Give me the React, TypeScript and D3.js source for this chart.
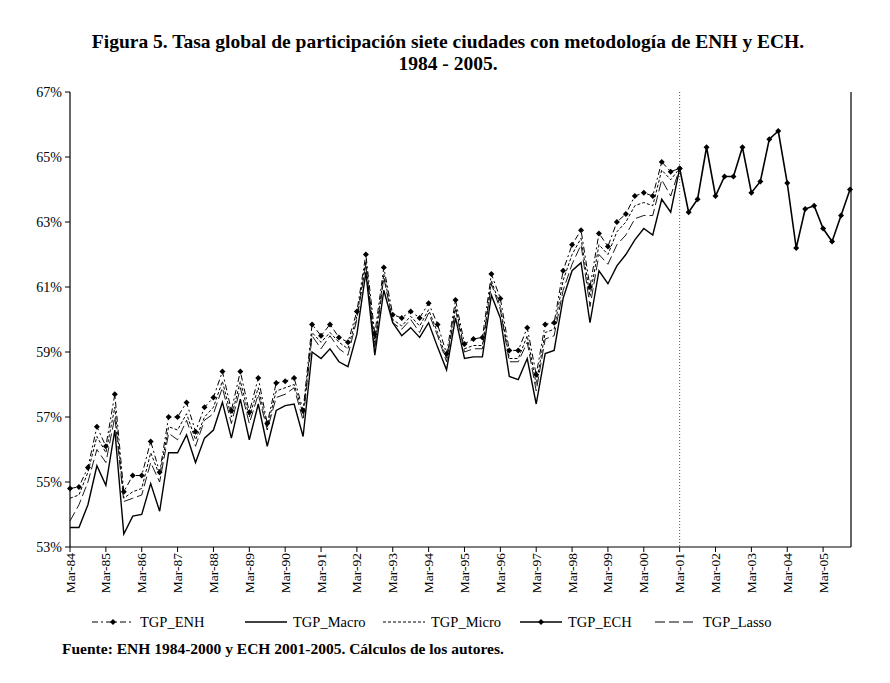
import React from "react";
import { scaleLinear, line } from "d3";

// quarterly, Mar-84 .. Mar-01 (69 points)
const enh = [54.8,54.85,55.45,56.7,56.1,57.7,54.7,55.2,55.2,56.25,55.3,57.0,57.0,57.45,56.55,57.3,57.6,58.4,57.2,58.4,57.15,58.2,56.8,58.05,58.1,58.2,57.2,59.85,59.5,59.85,59.45,59.3,60.25,62.0,59.55,61.6,60.15,60.05,60.25,60.05,60.5,59.85,58.95,60.6,59.25,59.4,59.45,61.4,60.65,59.05,59.05,59.75,58.3,59.85,59.9,61.5,62.3,62.75,61.0,62.65,62.25,63.0,63.25,63.8,63.9,63.8,64.85,64.55,64.65];
const macro = [53.6,53.6,54.3,55.5,54.9,56.6,53.4,53.95,54.0,54.95,54.1,55.9,55.9,56.45,55.6,56.35,56.6,57.45,56.35,57.55,56.3,57.4,56.1,57.2,57.35,57.4,56.4,59.0,58.8,59.1,58.7,58.55,59.55,61.45,58.9,60.9,59.9,59.5,59.75,59.45,59.9,59.15,58.45,60.05,58.8,58.85,58.85,60.75,60.05,58.25,58.15,58.8,57.4,58.95,59.05,60.65,61.5,61.75,59.9,61.5,61.1,61.65,62.0,62.45,62.8,62.6,63.7,63.3,64.65];
const micro = [54.5,54.6,55.3,56.4,55.9,57.3,54.5,54.7,54.8,55.9,55.2,56.7,56.6,57.1,56.3,57.0,57.3,58.1,57.0,58.1,57.0,57.9,56.7,57.8,57.9,58.0,57.1,59.6,59.3,59.6,59.3,59.1,60.1,61.8,59.3,61.4,60.0,59.8,60.1,59.8,60.3,59.6,58.8,60.4,59.1,59.2,59.2,61.2,60.4,58.8,58.8,59.5,58.0,59.6,59.7,61.2,62.0,62.5,60.7,62.3,62.0,62.7,63.0,63.5,63.6,63.5,64.6,64.3,64.65];
const lasso = [53.8,54.3,55.0,56.0,55.6,57.0,54.4,54.5,54.6,55.6,55.0,56.5,56.3,56.9,56.1,56.9,57.1,57.9,56.8,57.9,56.8,57.7,56.6,57.6,57.7,57.9,56.9,59.5,59.1,59.5,59.1,58.9,60.0,61.7,59.1,61.3,59.9,59.7,60.0,59.6,60.2,59.5,58.7,60.3,59.0,59.1,59.1,61.1,60.3,58.7,58.7,59.3,57.8,59.4,59.5,60.9,61.7,62.3,60.4,62.0,61.7,62.3,62.6,63.1,63.2,63.2,64.3,63.8,64.65];
// Mar-01 .. Dec-05 (20 points), starting at index 68
const ech = [64.65,63.3,63.7,65.3,63.8,64.4,64.4,65.3,63.9,64.25,65.55,65.8,64.2,62.2,63.4,63.5,62.8,62.4,63.2,64.0];
const echStart = 68;

const yearLabels = ["Mar-84","Mar-85","Mar-86","Mar-87","Mar-88","Mar-89","Mar-90","Mar-91","Mar-92","Mar-93","Mar-94","Mar-95","Mar-96","Mar-97","Mar-98","Mar-99","Mar-00","Mar-01","Mar-02","Mar-03","Mar-04","Mar-05"];
const yTicks = [53, 55, 57, 59, 61, 63, 65, 67];

const L = 70, R = 851, T = 92, B = 547;
const font = "'Liberation Serif', 'Times New Roman', serif";

export default function App() {
  const x = scaleLinear().domain([0, 87]).range([L, R - 1]);
  const y = scaleLinear().domain([53, 67]).range([B, T]);
  const mk = (off: number) =>
    line<number>().x((_, i) => x(i + off)).y((d) => y(d));
  const diamond = (cx: number, cy: number, k: string) => (
    <path key={k} d={`M${cx},${cy - 3}L${cx + 3},${cy}L${cx},${cy + 3}L${cx - 3},${cy}Z`} fill="#000" />
  );
  const legend = [
    { name: "TGP_ENH", dash: "6,3,2,3", mark: true, x0: 92 },
    { name: "TGP_Macro", dash: "", mark: false, x0: 245 },
    { name: "TGP_Micro", dash: "3,2", mark: false, x0: 383 },
    { name: "TGP_ECH", dash: "", mark: true, x0: 520 },
    { name: "TGP_Lasso", dash: "10,4", mark: false, x0: 655 },
  ];
  return (
    <div style={{ position: "absolute", left: 0, top: 0 }}>
      <svg width={890} height={683} style={{ fontFamily: font, display: "block" }}>
        <rect width={890} height={683} fill="#fff" />
        <text x={448} y={48} textAnchor="middle" fontSize={19.5} fontWeight="bold">
          Figura 5. Tasa global de participación siete ciudades con metodología de ENH y ECH.
        </text>
        <text x={448} y={70} textAnchor="middle" fontSize={19.5} fontWeight="bold">1984 - 2005.</text>

        {yTicks.map((t) => (
          <g key={t}>
            <line x1={L - 5} x2={L} y1={y(t)} y2={y(t)} stroke="#000" />
            <text x={L - 8} y={y(t) + 5} textAnchor="end" fontSize={14}>{t}%</text>
          </g>
        ))}
        {yearLabels.map((lab, i) => {
          const px = x(i * 4);
          return (
            <g key={lab}>
              <line x1={px} x2={px} y1={B} y2={B + 5} stroke="#000" />
              <text transform={`translate(${px + 4.5},${B + 6}) rotate(-90)`} textAnchor="end" fontSize={13.5}>{lab}</text>
            </g>
          );
        })}
        <line x1={x(68)} x2={x(68)} y1={T} y2={B} stroke="#555" strokeDasharray="1,2" />
        <line x1={R} x2={R} y1={T} y2={B} stroke="#666" strokeWidth={2} />
        <line x1={L} x2={L} y1={T} y2={B} stroke="#000" strokeWidth={1.2} />
        <line x1={L} x2={R} y1={B} y2={B} stroke="#000" strokeWidth={1.2} />

        <path d={mk(0)(lasso) || ""} fill="none" stroke="#000" strokeWidth={0.9} strokeDasharray="10,4" />
        <path d={mk(0)(micro) || ""} fill="none" stroke="#000" strokeWidth={1} strokeDasharray="3,2" />
        <path d={mk(0)(macro) || ""} fill="none" stroke="#000" strokeWidth={1.4} />
        <path d={mk(0)(enh) || ""} fill="none" stroke="#000" strokeWidth={1} strokeDasharray="6,3,2,3" />
        {enh.map((v, i) => diamond(x(i), y(v), "e" + i))}
        <path d={mk(echStart)(ech) || ""} fill="none" stroke="#000" strokeWidth={1.6} />
        {ech.map((v, i) => diamond(x(i + echStart), y(v), "c" + i))}

        {legend.map((d) => (
          <g key={d.name}>
            <line x1={d.x0} x2={d.x0 + 42} y1={622} y2={622} stroke="#000" strokeWidth={d.dash ? 1 : 1.5} strokeDasharray={d.dash} />
            {d.mark && diamond(d.x0 + 21, 622, d.name)}
            <text x={d.x0 + 48} y={627} fontSize={14.5}>{d.name}</text>
          </g>
        ))}
        <text x={62} y={654} fontSize={15.5} fontWeight="bold">
          Fuente: ENH 1984-2000 y ECH 2001-2005. Cálculos de los autores.
        </text>
      </svg>
    </div>
  );
}
